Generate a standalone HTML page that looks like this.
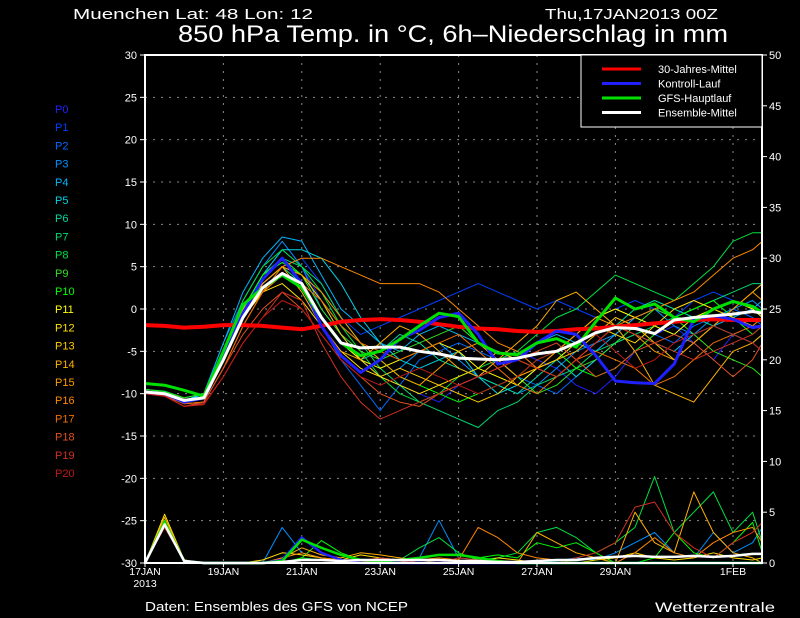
<!DOCTYPE html>
<html><head><meta charset="utf-8"><style>
html,body{margin:0;padding:0;background:#000;}
svg{display:block;font-family:"Liberation Sans",sans-serif;}
</style></head><body>
<svg id="c" width="800" height="618" viewBox="0 0 800 618" xmlns="http://www.w3.org/2000/svg">
<rect width="800" height="618" fill="#000"/>
<text x="73" y="19" fill="#fff" font-size="15" textLength="240" lengthAdjust="spacingAndGlyphs">Muenchen   Lat: 48 Lon: 12</text>
<text x="545" y="19" fill="#fff" font-size="15" textLength="173" lengthAdjust="spacingAndGlyphs">Thu,17JAN2013 00Z</text>
<text x="178" y="42" fill="#fff" font-size="24" textLength="550" lengthAdjust="spacingAndGlyphs">850 hPa Temp. in °C, 6h–Niederschlag in mm</text>
<text x="145" y="611" fill="#fff" font-size="12.5" textLength="263" lengthAdjust="spacingAndGlyphs">Daten: Ensembles des GFS von NCEP</text>
<text x="655" y="612" fill="#fff" font-size="14" textLength="120" lengthAdjust="spacingAndGlyphs">Wetterzentrale</text>
<g id="grid"></g><g id="prec"></g><g id="temp"></g><g id="axes"></g><g id="labels"></g>
</svg>
<script>
const times=[];for(let i=0;i<32;i++)times.push(i*0.5);times.push(15.75);
const dateLabels=["17JAN","19JAN","21JAN","23JAN","25JAN","27JAN","29JAN","1FEB"];
const dateDays=[0,2,4,6,8,10,12,15];
const tempTicks=[30,25,20,15,10,5,0,-5,-10,-15,-20,-25,-30];
const precTicks=[50,45,40,35,30,25,20,15,10,5,0];
const memberNames=["P0","P1","P2","P3","P4","P5","P6","P7","P8","P9","P10","P11","P12","P13","P14","P15","P16","P17","P18","P19","P20"];
const climate=[-1.9,-2,-2.2,-2.1,-1.9,-1.9,-2,-2.2,-2.4,-2,-1.5,-1.3,-1.2,-1.3,-1.5,-1.8,-2.1,-2.3,-2.4,-2.6,-2.7,-2.6,-2.4,-2.3,-2.1,-1.9,-1.7,-1.5,-1.3,-1.2,-1.3,-1.3,-1.3];
const control=[-9.8,-10,-11,-10.5,-5.5,-0.5,3.5,6,3,-2,-5.5,-7.5,-6,-3.5,-2.5,-1,-0.5,-3,-6.5,-6,-4,-2.6,-3,-5.5,-8.5,-8.7,-8.8,-6.5,-1.2,-0.8,-1.2,-2.2,-2];
const gfs=[-8.8,-9,-9.6,-10.3,-5,0.5,2.5,4,2.5,-1,-4,-5.5,-5,-3.6,-2,-0.5,-0.9,-4,-5.2,-5.4,-4,-3.5,-4.5,-1.5,1.3,0,0.6,-1,-1.5,0,0.9,0.3,-0.4];
const ensMean=[-9.8,-10,-10.8,-10.5,-6,-1,2.5,4.2,3,-1,-4,-4.6,-4.5,-4.5,-5,-5.3,-5.8,-5.9,-6,-5.8,-5.3,-5,-4,-2.8,-2.2,-2.3,-2.9,-1.3,-1,-0.8,-0.6,-0.3,-0.5];
const m0=[-10,-10,-11,-10,-5,0,4,7,5,1,-3,-6,-8,-9,-10,-11,-9,-8,-6,-5,-6,-7,-9,-10,-8,-5,-3,-2,-4,-6,-3,-2,-2];
const m1=[-10,-10.2,-11.5,-11,-6,-1,3,5,6,3,-1,-3,-2,-1,0,1,2,3,2,1,0,1,0,-1,0,1,0,-1,1,2,1,0,-1];
const m2=[-9.8,-10,-11,-10,-5,0,4,6,3,-2,-6,-9,-12,-9,-6,-5,-4,-5,-6,-8,-9,-10,-8,-6,-4,-2,-3,-4,-2,-1,0,-1,-2];
const m3=[-9.5,-9.8,-10.5,-10,-4,1,5,8,5,0,-3,-6,-8,-7,-5,-4,-6,-8,-9,-10,-9,-7,-5,-4,-3,-1,0,-2,-3,-1,0,1,0];
const m4=[-9.7,-10,-11,-10,-4,2,6,8.5,8,4,0,-2,-4,-5,-3,-2,-3,-4,-5,-6,-4,-3,-4,-5,-3,-1,-2,-3,-4,-2,-1,0,1];
const m5=[-9.8,-10,-10.8,-10,-5,0,4,7,7,6,3,-1,-4,-6,-7,-6,-5,-8,-10,-9,-7,-6,-8,-6,-4,-3,-4,-5,-3,-2,-3,-4,-5];
const m6=[-9.8,-10,-11,-10.5,-6,-1,3,5,3,-1,-4,-6,-5,-3,-4,-6,-7,-8,-9,-10,-8,-6,-4,-3,-2,0,1,0,-1,-2,-3,-4,-3];
const m7=[-9.8,-10,-11,-10.5,-5,0,4,6,5,3,-1,-4,-7,-9,-11,-12,-13,-14,-12,-11,-9,-8,-7,-5,-4,-3,-2,-1,0,1,2,3,3];
const m8=[-9.5,-9.7,-10.5,-10,-5,1,5,7,5,2,-2,-5,-8,-10,-11,-10,-8,-7,-6,-5,-3,-1,0,2,4,3,2,1,3,5,8,9,9];
const m9=[-9.5,-9.8,-10.5,-10,-5,0,4,6,4,0,-3,-5,-6,-5,-4,-3,-2,-4,-6,-8,-10,-9,-7,-6,-4,-2,0,-1,-3,-5,-6,-7,-8];
const m10=[-9.7,-10,-11,-10.5,-5,0,4,5.5,4,1,-2,-4,-6,-8,-9,-10,-11,-10,-9,-8,-6,-5,-7,-8,-7,-5,-3,-1,0,1,-1,-3,-2];
const m11=[-9.7,-10,-11,-10.5,-6,-1,2,4,3,-1,-4,-6,-7,-6,-5,-4,-5,-7,-8,-9,-7,-5,-3,-1,0,-1,-2,-3,-1,0,1,0,-1];
const m12=[-9.7,-10,-11,-10.5,-6,-1,2,3,1,-2,-5,-7,-8,-9,-10,-9,-8,-7,-5,-6,-7,-6,-4,-2,-3,-4,-2,0,1,0,-1,-2,-1];
const m13=[-9.8,-10.2,-11,-10.5,-6,-1,3,5,4,1,-3,-6,-8,-7,-8,-9,-10,-11,-10,-8,-7,-6,-5,-3,-1,-2,-4,-6,-4,-2,0,2,3];
const m14=[-9.8,-10,-11,-10.5,-5,0,3,5,2,-2,-5,-6,-4,-2,-3,-5,-7,-8,-6,-4,-2,1,2,0,-2,-5,-9,-10,-11,-8,-5,-4,-3];
const m15=[-9.7,-10,-11,-10.5,-5.5,-1,3,5,4,2,-1,-4,-6,-8,-9,-7,-5,-4,-6,-8,-7,-5,-3,-1,-2,-3,-5,-6,-4,-2,0,2,1];
const m16=[-10,-10.2,-11.2,-11,-7,-2,2,5,6,6,5,4,3,3,3,2,0,-2,-4,-5,-7,-8,-6,-4,-2,-1,0,1,2,4,6,7,8];
const m17=[-10,-10.2,-11.2,-11,-7,-2,2,4,3,1,-2,-4,-5,-6,-5,-4,-3,-5,-7,-9,-10,-8,-6,-5,-6,-7,-9,-8,-6,-4,-3,-2,-1];
const m18=[-10,-10.2,-11.5,-11,-7,-3,0,2,0,-3,-6,-8,-10,-11,-11.5,-10,-9,-8,-7,-6,-5,-4,-6,-8,-7,-5,-4,-3,-4,-6,-8,-6,-4];
const m19=[-10,-10.3,-11.5,-11.2,-8,-4,-1,2,1,-4,-8,-11,-13,-12,-11,-10,-9,-8,-7,-6,-7,-8,-6,-4,-2,-3,-4,-5,-6,-5,-4,-3,-2];
const m20=[-10,-10.3,-11.5,-11.3,-8,-4,-1,1,0,-3,-6,-8,-9,-8,-7,-8,-9,-10,-9,-8,-6,-5,-4,-3,-5,-7,-6,-4,-3,-2,-3,-4,-5];
const precP3=[0,3.8,0.3,0,0,0,0,3.5,1,0.5,0,0,0.5,0.3,0.5,4.2,0.5,0.3,0,0,0,0.2,0.5,0.3,1,2,3,1,0.5,3,1,2,3.5];
const precP8=[0,4,0.2,0,0,0,0,0,0.5,0.3,0.2,0,0,0.3,1.5,2.5,1,0.3,0.5,1,3,3.5,2.5,1,2,3.5,8.5,3,5,7,3,5,2];
const precP10=[0,4.2,0.3,0,0,0,0,0,0.5,2.2,1,0.3,0,0,0,0,0,0.5,0.8,0.5,2,1.5,2,1,0,0,0.5,3,1,0.5,2,4,1];
const precP12=[0,4.8,0.3,0,0,0,0.3,1,0.8,0.5,0.3,0.8,0.5,0.2,0,0,0,0,0.5,0.3,0,0,0,0.3,0.5,1,0.5,0.3,0.5,1,0.5,0.3,0.5];
const precP14=[0,4.5,0.3,0,0,0,0,0.5,1.5,0.8,0.5,1,0.8,0.5,0.3,0,0,0,0,0,3,2,1,0.5,0,5,2,1,7,3,1,0.5,0];
const precP16=[0,3.5,0.2,0,0,0,0,0.5,1,0.5,0.3,0.2,0,0,0.3,0.5,0.3,3.5,2.5,1,0.5,0.3,0,0,0,1,2.5,1,0.5,2,3,3.5,2];
const precP19=[0,3.5,0.2,0,0,0,0,0,2.5,1,0.3,0.2,0.5,0.3,0,0,0.5,0.3,0.2,0,0,0,0.5,1,2,5.5,6,3,1.5,0.5,2,3,4];
const precControl=[0,3.8,0.2,0,0,0,0,0.3,2.5,1,0.3,0,0,0,0,0,0,0,0,0,0,0,0,0,0,0,0,0,0,0,0,0,0];
const precGfs=[0,4,0.2,0,0,0,0,0.2,2.3,1.5,0.8,0.3,0.2,0.3,0.5,0.8,0.8,0.5,0.2,0,0,0,0,0,0,0,0,0,0,0,0,0,0,0];
const precMean=[0,3.8,0.2,0,0,0,0,0.1,0.3,0.3,0.2,0.3,0.3,0.3,0.3,0.3,0.2,0.2,0.1,0.1,0.2,0.3,0.3,0.5,0.6,0.7,0.6,0.6,0.7,0.6,0.7,0.9,0.9];

const colors=["#2020ff","#0040ff","#0068ff","#0090ff","#00b4ff","#00d4e8","#00d8a0","#00d870","#00e040","#30e020","#00ff00","#ffff00","#ffe000","#ffc800","#ffb000","#ff9c00","#ff8800","#f07000","#e05020","#d03020","#c01818"];
const members=[m0,m1,m2,m3,m4,m5,m6,m7,m8,m9,m10,m11,m12,m13,m14,m15,m16,m17,m18,m19,m20];
const precMembers=[[precP3,3],[precP8,8],[precP10,10],[precP12,12],[precP14,14],[precP16,16],[precP19,19]];

const X0=145,X1=762,Y0=55,Y1=563,DAYPX=39.2;
const xs=t=>X0+t*DAYPX;
const yT=v=>Y1-(v+30)*(Y1-Y0)/60;
const yP=v=>Y1-v*(Y1-Y0)/50;
const NS="http://www.w3.org/2000/svg";
function mk(tag,attrs,parent){const e=document.createElementNS(NS,tag);for(const k in attrs)e.setAttribute(k,attrs[k]);parent.appendChild(e);return e;}
const grid=document.getElementById('grid'),axes=document.getElementById('axes'),labels=document.getElementById('labels'),tg=document.getElementById('temp'),pg=document.getElementById('prec');

tempTicks.forEach(v=>{const y=yT(v);
 if(v>-30&&v<30){const l=mk('line',{x1:X0,x2:X1,y1:y,y2:y,stroke:'#8a8a8a','stroke-dasharray':'2,6'},grid);
 
 }
 mk('line',{x1:X0-5,x2:X0,y1:y,y2:y,stroke:'#fff'},axes);
 const t=mk('text',{x:X0-8,y:y+4,fill:'#fff','font-size':11,'text-anchor':'end'},labels);t.textContent=v;
 
 
});
precTicks.forEach(v=>{const y=yP(v);
 mk('line',{x1:X1,x2:X1+5,y1:y,y2:y,stroke:'#fff'},axes);
 const t=mk('text',{x:X1+7,y:y+4,fill:'#fff','font-size':11},labels);t.textContent=v;
 
 
});
dateDays.forEach((d,i)=>{const x=xs(d);
 if(d>0){const l=mk('line',{x1:x,x2:x,y1:Y0,y2:Y1,stroke:'#8a8a8a','stroke-dasharray':'2,6'},grid);
 
 }
 mk('line',{x1:x,x2:x,y1:Y1,y2:Y1+4,stroke:'#fff'},axes);
 const t=mk('text',{x:x,y:Y1+12,fill:'#fff','font-size':10.5,'text-anchor':'middle'},labels);t.textContent=dateLabels[i];
 
 
});
const yr=mk('text',{x:X0,y:Y1+24,fill:'#fff','font-size':10.5,'text-anchor':'middle'},labels);yr.textContent='2013';



function pts(arr,f){return arr.map((v,i)=>xs(times[i]).toFixed(1)+','+f(v).toFixed(1)).join(' ');}
function line(g,arr,f,col,w,name){const p=mk('polyline',{points:pts(arr,f),fill:'none',stroke:col,'stroke-width':w,'stroke-linejoin':'round'},g);
 
 }

precMembers.forEach(([a,k])=>line(pg,a,yP,colors[k],1,'precip-'+memberNames[k].toLowerCase()));
line(pg,precControl,yP,'#2020ff',2.5,'precip-control');
line(pg,precGfs,yP,'#00e000',2.5,'precip-gfs');
line(pg,precMean,yP,'#fff',2.5,'precip-mean');

members.forEach((a,k)=>line(tg,a,yT,colors[k],1,'temp-'+memberNames[k].toLowerCase()));
line(tg,climate,yT,'#ff0000',4,'climate-mean-line');
line(tg,control,yT,'#2020ff',3,'control-run-line');
line(tg,gfs,yT,'#00e000',3,'gfs-main-run-line');
line(tg,ensMean,yT,'#ffffff',3,'ensemble-mean-line');

const frame=mk('rect',{x:X0,y:Y0,width:X1-X0,height:Y1-Y0,fill:'none',stroke:'#fff','stroke-width':2},axes);



memberNames.forEach((n,k)=>{const t=mk('text',{x:55,y:113+k*18.2,fill:colors[k],'font-size':11},labels);t.textContent=n;
 
 });

const lg=mk('g',{},labels);


mk('rect',{x:581,y:55,width:181,height:72,fill:'#000',stroke:'#fff','stroke-width':1},lg);
const legNames=["30-Jahres-Mittel","Kontroll-Lauf","GFS-Hauptlauf","Ensemble-Mittel"];
const legCols=["#ff0000","#2020ff","#00e000","#ffffff"];
legNames.forEach((n,i)=>{const y=69+i*14.5;
 mk('line',{x1:602,x2:641,y1:y,y2:y,stroke:legCols[i],'stroke-width':3},lg);
 const t=mk('text',{x:658,y:y+4,fill:'#fff','font-size':11},lg);t.textContent=n;
 
 });
</script>
</body></html>
